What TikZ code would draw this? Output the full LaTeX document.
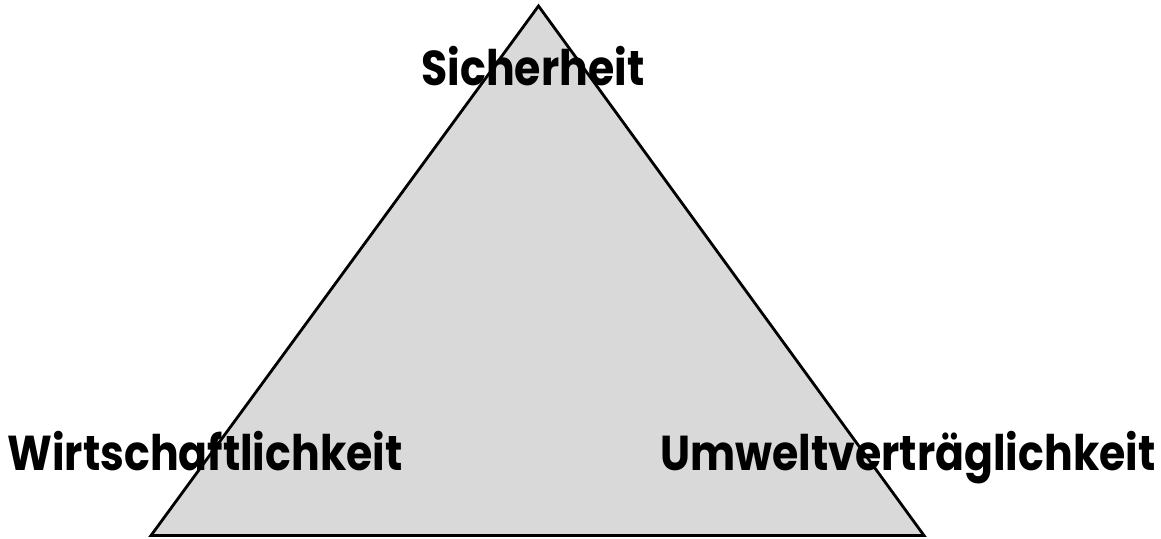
\documentclass[tikz,border=0pt]{standalone}
\usepackage{fontspec}
\newfontfamily\labfont{Poppins}[FakeStretch=0.87]
\definecolor{trifill}{HTML}{D9D9D9}
\tikzset{
  lbl/.style={font=\labfont\bfseries\fontsize{49}{53}\selectfont, inner sep=0pt, anchor=base},
  tri/.style={fill=trifill, draw=black, line width=2.8pt, line join=miter}
}
\begin{document}
\begin{tikzpicture}[x=1pt,y=-1pt]
\useasboundingbox (0,0) rectangle (1161,538);
\coordinate (apex) at (538.5,6);
\coordinate (bl) at (151,535.5);
\coordinate (br) at (924,535.5);
\draw[tri] (apex) -- (bl) -- (br) -- cycle;
\node[lbl] (top) at (533,85) {Sicherheit};
\node[lbl] (left) at (205,470) {Wirtschaftlichkeit};
\node[lbl] (right) at (908,470) {Umweltverträglichkeit};
\end{tikzpicture}
\end{document}
